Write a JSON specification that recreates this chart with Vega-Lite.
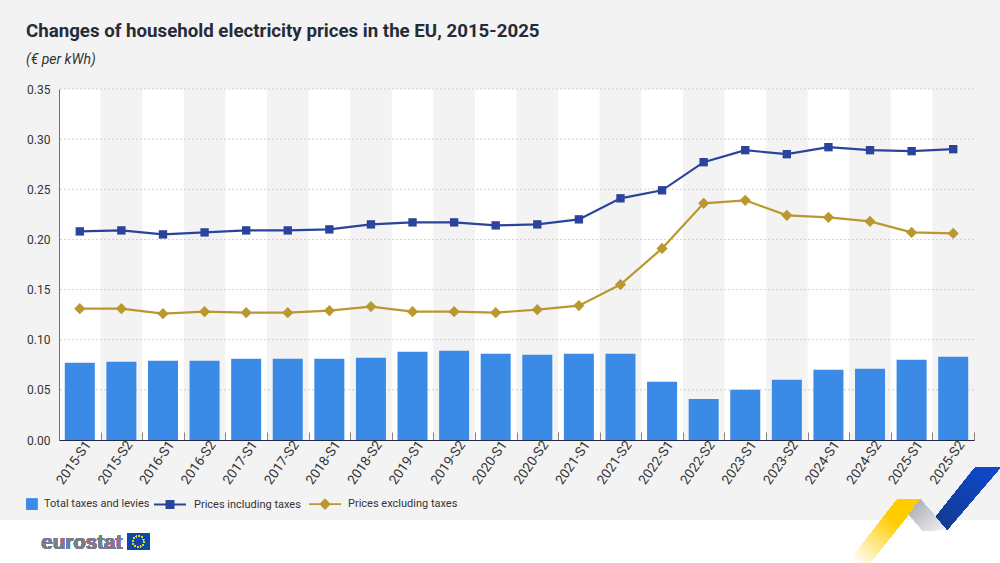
{
  "$schema": "https://vega.github.io/schema/vega-lite/v6.json",
  "width": 915,
  "height": 351,
  "autosize": "none",
  "padding": {"left": 59, "top": 89, "right": 26, "bottom": 123},
  "background": "#f3f3f4",
  "title": {
    "text": "Changes of household electricity prices in the EU, 2015-2025",
    "subtitle": "(€ per kWh)",
    "anchor": "start",
    "frame": "group",
    "dx": -33,
    "offset": 16,
    "font": "Roboto",
    "fontSize": 18.7,
    "fontWeight": "bold",
    "color": "#262b38",
    "subtitleFont": "Roboto",
    "subtitleFontSize": 14,
    "subtitleFontStyle": "italic",
    "subtitleColor": "#333333",
    "subtitlePadding": 12
  },
  "config": {
    "font": "Roboto",
    "view": {"stroke": null},
    "axis": {"labelFont": "Roboto", "labelFontSize": 12, "labelColor": "#333333"}
  },
  "datasets": {
    "prices": [
      {"period": "2015-S1", "series": "Total taxes and levies", "value": 0.077},
      {"period": "2015-S2", "series": "Total taxes and levies", "value": 0.078},
      {"period": "2016-S1", "series": "Total taxes and levies", "value": 0.079},
      {"period": "2016-S2", "series": "Total taxes and levies", "value": 0.079},
      {"period": "2017-S1", "series": "Total taxes and levies", "value": 0.081},
      {"period": "2017-S2", "series": "Total taxes and levies", "value": 0.081},
      {"period": "2018-S1", "series": "Total taxes and levies", "value": 0.081},
      {"period": "2018-S2", "series": "Total taxes and levies", "value": 0.082},
      {"period": "2019-S1", "series": "Total taxes and levies", "value": 0.088},
      {"period": "2019-S2", "series": "Total taxes and levies", "value": 0.089},
      {"period": "2020-S1", "series": "Total taxes and levies", "value": 0.086},
      {"period": "2020-S2", "series": "Total taxes and levies", "value": 0.085},
      {"period": "2021-S1", "series": "Total taxes and levies", "value": 0.086},
      {"period": "2021-S2", "series": "Total taxes and levies", "value": 0.086},
      {"period": "2022-S1", "series": "Total taxes and levies", "value": 0.058},
      {"period": "2022-S2", "series": "Total taxes and levies", "value": 0.041},
      {"period": "2023-S1", "series": "Total taxes and levies", "value": 0.05},
      {"period": "2023-S2", "series": "Total taxes and levies", "value": 0.06},
      {"period": "2024-S1", "series": "Total taxes and levies", "value": 0.07},
      {"period": "2024-S2", "series": "Total taxes and levies", "value": 0.071},
      {"period": "2025-S1", "series": "Total taxes and levies", "value": 0.08},
      {"period": "2025-S2", "series": "Total taxes and levies", "value": 0.083},
      {"period": "2015-S1", "series": "Prices including taxes", "value": 0.208},
      {"period": "2015-S2", "series": "Prices including taxes", "value": 0.209},
      {"period": "2016-S1", "series": "Prices including taxes", "value": 0.205},
      {"period": "2016-S2", "series": "Prices including taxes", "value": 0.207},
      {"period": "2017-S1", "series": "Prices including taxes", "value": 0.209},
      {"period": "2017-S2", "series": "Prices including taxes", "value": 0.209},
      {"period": "2018-S1", "series": "Prices including taxes", "value": 0.21},
      {"period": "2018-S2", "series": "Prices including taxes", "value": 0.215},
      {"period": "2019-S1", "series": "Prices including taxes", "value": 0.217},
      {"period": "2019-S2", "series": "Prices including taxes", "value": 0.217},
      {"period": "2020-S1", "series": "Prices including taxes", "value": 0.214},
      {"period": "2020-S2", "series": "Prices including taxes", "value": 0.215},
      {"period": "2021-S1", "series": "Prices including taxes", "value": 0.22},
      {"period": "2021-S2", "series": "Prices including taxes", "value": 0.241},
      {"period": "2022-S1", "series": "Prices including taxes", "value": 0.249},
      {"period": "2022-S2", "series": "Prices including taxes", "value": 0.277},
      {"period": "2023-S1", "series": "Prices including taxes", "value": 0.289},
      {"period": "2023-S2", "series": "Prices including taxes", "value": 0.285},
      {"period": "2024-S1", "series": "Prices including taxes", "value": 0.292},
      {"period": "2024-S2", "series": "Prices including taxes", "value": 0.289},
      {"period": "2025-S1", "series": "Prices including taxes", "value": 0.288},
      {"period": "2025-S2", "series": "Prices including taxes", "value": 0.29},
      {"period": "2015-S1", "series": "Prices excluding taxes", "value": 0.131},
      {"period": "2015-S2", "series": "Prices excluding taxes", "value": 0.131},
      {"period": "2016-S1", "series": "Prices excluding taxes", "value": 0.126},
      {"period": "2016-S2", "series": "Prices excluding taxes", "value": 0.128},
      {"period": "2017-S1", "series": "Prices excluding taxes", "value": 0.127},
      {"period": "2017-S2", "series": "Prices excluding taxes", "value": 0.127},
      {"period": "2018-S1", "series": "Prices excluding taxes", "value": 0.129},
      {"period": "2018-S2", "series": "Prices excluding taxes", "value": 0.133},
      {"period": "2019-S1", "series": "Prices excluding taxes", "value": 0.128},
      {"period": "2019-S2", "series": "Prices excluding taxes", "value": 0.128},
      {"period": "2020-S1", "series": "Prices excluding taxes", "value": 0.127},
      {"period": "2020-S2", "series": "Prices excluding taxes", "value": 0.13},
      {"period": "2021-S1", "series": "Prices excluding taxes", "value": 0.134},
      {"period": "2021-S2", "series": "Prices excluding taxes", "value": 0.155},
      {"period": "2022-S1", "series": "Prices excluding taxes", "value": 0.191},
      {"period": "2022-S2", "series": "Prices excluding taxes", "value": 0.236},
      {"period": "2023-S1", "series": "Prices excluding taxes", "value": 0.239},
      {"period": "2023-S2", "series": "Prices excluding taxes", "value": 0.224},
      {"period": "2024-S1", "series": "Prices excluding taxes", "value": 0.222},
      {"period": "2024-S2", "series": "Prices excluding taxes", "value": 0.218},
      {"period": "2025-S1", "series": "Prices excluding taxes", "value": 0.207},
      {"period": "2025-S2", "series": "Prices excluding taxes", "value": 0.206}
    ],
    "gridlines": [
      {"tick": 0.05}, {"tick": 0.1}, {"tick": 0.15}, {"tick": 0.2}, {"tick": 0.25}, {"tick": 0.3}, {"tick": 0.35}
    ]
  },
  "data": {"name": "prices"},
  "encoding": {
    "x": {
      "field": "period",
      "type": "ordinal",
      "title": null,
      "scale": {"paddingInner": 0, "paddingOuter": 0},
      "axis": {
        "zindex": 1,
        "labelAngle": -55,
        "labelAlign": "right",
        "labelBaseline": "middle",
        "labelOffset": 8,
        "labelPadding": 10,
        "labelFontSize": 13.5,
        "tickBand": "extent",
        "tickSize": -8,
        "tickColor": "#8a8378",
        "domainColor": "#1f2a44",
        "domainWidth": 1.2
      }
    }
  },
  "layer": [
    {
      "transform": [{"filter": "datum.series == 'Total taxes and levies' && indexof(datum.period, 'S1') > 0"}],
      "mark": {"type": "bar", "color": "#ffffff", "width": {"band": 1}},
      "encoding": {"y": {"datum": 0, "type": "quantitative"}, "y2": {"datum": 0.35}}
    },
    {
      "data": {"name": "gridlines"},
      "mark": {"type": "rule", "color": "#c6c6c6", "strokeDash": [2, 2], "strokeWidth": 0.8},
      "encoding": {"x": null, "y": {"field": "tick", "type": "quantitative"}}
    },
    {
      "transform": [{"filter": "datum.series == 'Total taxes and levies'"}],
      "mark": {"type": "bar", "width": 30},
      "encoding": {
        "y": {
          "field": "value",
          "type": "quantitative",
          "title": null,
          "scale": {"domain": [0, 0.35], "nice": false},
          "axis": {
            "zindex": 1,
            "values": [0, 0.05, 0.1, 0.15, 0.2, 0.25, 0.3, 0.35],
            "format": ".2f",
            "grid": false,
            "ticks": false,
            "labelPadding": 9,
            "domainColor": "#6e6e6e"
          }
        },
        "color": {
          "field": "series",
          "type": "nominal",
          "scale": {
            "domain": ["Total taxes and levies", "Prices including taxes", "Prices excluding taxes"],
            "range": ["#3a8ae6", "#2a439b", "#b8982f"]
          },
          "legend": {
            "title": null,
            "orient": "none",
            "legendX": -33,
            "legendY": 399,
            "direction": "horizontal",
            "columns": 3,
            "columnPadding": -11,
            "symbolSize": 1024,
            "symbolStrokeWidth": 0,
            "labelFont": "Roboto",
            "labelFontSize": 11,
            "labelColor": "#333333",
            "labelOffset": 6,
            "encoding": {
              "symbols": {
                "shape": {"value": {"expr": "datum.value == 'Total taxes and levies' ? 'M-1,-0.37H-0.26V0.37H-1Z' : datum.value == 'Prices including taxes' ? 'M-0.75,-0.06H-0.03V-0.28H0.53V-0.06H1.25V0.06H0.53V0.28H-0.03V0.06H-0.75Z' : 'M-0.5,-0.06H0.2L0.5,-0.36L0.8,-0.06H1.5V0.06H0.8L0.5,0.36L0.2,0.06H-0.5Z'"}},
                "fill": {"value": {"expr": "datum.value == 'Total taxes and levies' ? '#3a8ae6' : datum.value == 'Prices including taxes' ? '#2a439b' : '#b8982f'"}},
                "stroke": {"value": "transparent"},
                "opacity": {"value": 1}
              },
              "labels": {
                "dx": {"value": {"expr": "datum.value == 'Total taxes and levies' ? -20 : datum.value == 'Prices including taxes' ? 6 : 9"}}
              }
            }
          }
        }
      }
    },
    {
      "transform": [{"filter": "datum.series != 'Total taxes and levies'"}],
      "mark": {"type": "line", "strokeWidth": 2.2},
      "encoding": {
        "y": {"field": "value", "type": "quantitative"},
        "color": {"field": "series", "type": "nominal"}
      }
    },
    {
      "transform": [{"filter": "datum.series != 'Total taxes and levies'"}],
      "mark": {"type": "point", "filled": true, "opacity": 1},
      "encoding": {
        "y": {"field": "value", "type": "quantitative"},
        "color": {"field": "series", "type": "nominal"},
        "shape": {
          "field": "series",
          "type": "nominal",
          "legend": null,
          "scale": {"domain": ["Prices including taxes", "Prices excluding taxes"], "range": ["square", "diamond"]}
        },
        "size": {"condition": {"test": "datum.series == 'Prices excluding taxes'", "value": 125}, "value": 70}
      }
    },
    {
      "mark": {"type": "point", "filled": true, "opacity": 1, "color": "#ffffff", "strokeWidth": 0, "clip": false, "shape": "M-1.6,0H18.4V0.9H-1.6Z"},
      "encoding": {"x": {"datum": "2015-S1"}, "y": {"datum": -0.0803, "type": "quantitative"}, "size": {"value": 10000}}
    },
    {
      "mark": {"type": "point", "filled": true, "opacity": 1, "strokeWidth": 0, "shape": "M-1.12,-0.42H-0.66L-1.66,0.84H-2.1Z",
        "fill": {"gradient": "linear", "x1": 1, "y1": 0, "x2": 0, "y2": 1, "stops": [{"offset": 0.35, "color": "#ffcc00"}, {"offset": 0.95, "color": "#ffffff"}]}},
      "encoding": {"x": {"datum": "2025-S2"}, "y": {"datum": -0.0803, "type": "quantitative"}, "size": {"value": 10000}}
    },
    {
      "mark": {"type": "point", "filled": true, "opacity": 1, "strokeWidth": 0, "shape": "M-0.66,-0.42L-0.12,0.18L-0.6,0.21L-0.88,-0.12Z",
        "fill": {"gradient": "linear", "x1": 0, "y1": 0, "x2": 1, "y2": 1, "stops": [{"offset": 0, "color": "#a4a6b0"}, {"offset": 1, "color": "#f4f4f6"}]}},
      "encoding": {"x": {"datum": "2025-S2"}, "y": {"datum": -0.0803, "type": "quantitative"}, "size": {"value": 10000}}
    },
    {
      "mark": {"type": "point", "filled": true, "opacity": 1, "strokeWidth": 0, "shape": "M0.44,-1.06H0.94L-0.12,0.18L-0.34,-0.08Z",
        "fill": {"gradient": "linear", "x1": 1, "y1": 0, "x2": 0, "y2": 1, "stops": [{"offset": 0, "color": "#0f49d0"}, {"offset": 1, "color": "#123a8e"}]}},
      "encoding": {"x": {"datum": "2025-S2"}, "y": {"datum": -0.0803, "type": "quantitative"}, "size": {"value": 10000}}
    },
    {
      "mark": {"type": "text", "text": "eurostat", "font": "Liberation Sans", "fontWeight": "bold", "fontSize": 20.5, "color": "#7b7c85", "align": "center", "baseline": "middle", "dx": 2},
      "encoding": {"x": {"datum": "2015-S1"}, "y": {"datum": -0.1032, "type": "quantitative"}}
    },
    {
      "mark": {"type": "point", "filled": true, "opacity": 1, "color": "#0e4aa3", "strokeWidth": 0, "shape": "M0.12,0.26H0.56V0.58H0.12Z"},
      "encoding": {"x": {"datum": "2015-S2"}, "y": {"datum": -0.0803, "type": "quantitative"}, "size": {"value": 10000}}
    },
    {
      "mark": {"type": "point", "filled": false, "opacity": 1, "color": "#f4d21f", "strokeWidth": 1.2, "strokeDash": [1, 1.9], "shape": "M0.45,0.42A0.11,0.11 0 1 1 0.23,0.42A0.11,0.11 0 1 1 0.45,0.42"},
      "encoding": {"x": {"datum": "2015-S2"}, "y": {"datum": -0.0803, "type": "quantitative"}, "size": {"value": 10000}}
    }
  ]
}
